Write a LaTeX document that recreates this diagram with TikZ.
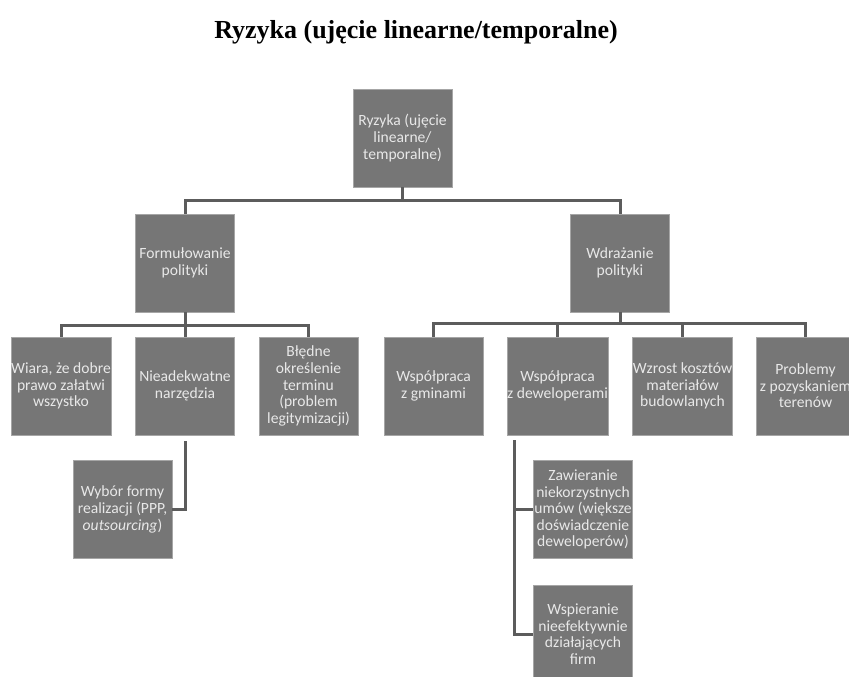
\documentclass[tikz,border=0pt]{standalone}
\usepackage{fontspec}
\setmainfont{Carlito}
\newfontfamily\titlefont{Liberation Serif}
\usetikzlibrary{positioning}

\definecolor{boxgray}{HTML}{767676}
\definecolor{boxedge}{HTML}{A6A6A6}
\definecolor{boxtext}{HTML}{E8E8E8}
\definecolor{linegray}{HTML}{5C5C5C}

\tikzset{
  risk/.style={draw=boxedge, line width=0.6pt, fill=boxgray, text=boxtext,
    minimum width=99pt, minimum height=98pt, inner sep=0pt, align=center,
    font=\fontsize{15.6}{16.6}\selectfont},
  link/.style={draw=linegray, line width=3pt}
}

\begin{document}
\begin{tikzpicture}[x=1pt, y=-1pt]
  \useasboundingbox (0,0) rectangle (849,677);
  \node[font=\titlefont\bfseries\fontsize{26}{30}\selectfont] (title) at (416,32)
    {Ryzyka (ujęcie linearne/temporalne)};
  % poziom 0
  \node[risk] (root) at (402.5,138) {Ryzyka (ujęcie\\linearne/\\temporalne)};
  % poziom 1
  \node[risk] (form) at (185,263) {Formułowanie\\polityki};
  \node[risk] (wdr) at (620,263) {Wdrażanie\\polityki};
  % poziom 2 (formułowanie)
  \node[risk] (wiara) at (61,386) {Wiara, że dobre\\prawo załatwi\\wszystko};
  \node[risk] (niead) at (185,386) {Nieadekwatne\\narzędzia};
  \node[risk] (bledne) at (308.5,386) {Błędne\\określenie\\terminu\\(problem\\legitymizacji)};
  % poziom 2 (wdrażanie)
  \node[risk] (gminy) at (433.5,386) {Współpraca\\z gminami};
  \node[risk] (dewel) at (557.5,386) {Współpraca\\z deweloperami};
  \node[risk] (wzrost) at (682.5,386) {Wzrost kosztów\\materiałów\\budowlanych};
  \node[risk] (tereny) at (805.5,386) {Problemy\\z pozyskaniem\\terenów};
  % poziom 3
  \node[risk] (wybor) at (122.5,509.5) {Wybór formy\\realizacji (PPP,\\\textit{outsourcing})};
  \node[risk] (zawier) at (583,509.5) {Zawieranie\\niekorzystnych\\umów (większe\\doświadczenie\\deweloperów)};
  \node[risk] (wspier) at (583,634) {Wspieranie\\nieefektywnie\\działających\\firm};

  % połączenia
  \draw[link] (root.south) -- ++(0,13) -| (form.north);
  \draw[link] (root.south) -- ++(0,13) -| (wdr.north);
  \draw[link] (form.south) -- ++(0,13) -| (wiara.north);
  \draw[link] (form.south) -- ++(0,13) -| (niead.north);
  \draw[link] (form.south) -- ++(0,13) -| (bledne.north);
  \draw[link] (wdr.south) -- ++(0,11) -| (gminy.north);
  \draw[link] (wdr.south) -- ++(0,11) -| (dewel.north);
  \draw[link] (wdr.south) -- ++(0,11) -| (wzrost.north);
  \draw[link] (wdr.south) -- ++(0,11) -| (tereny.north);
  \draw[link] ([yshift=-6pt]niead.south) |- (wybor.east);
  \draw[link] ([xshift=8pt,yshift=-5pt]dewel.south west) |- (zawier.west);
  \draw[link] ([xshift=8pt,yshift=-5pt]dewel.south west) |- (wspier.west);
\end{tikzpicture}
\end{document}
